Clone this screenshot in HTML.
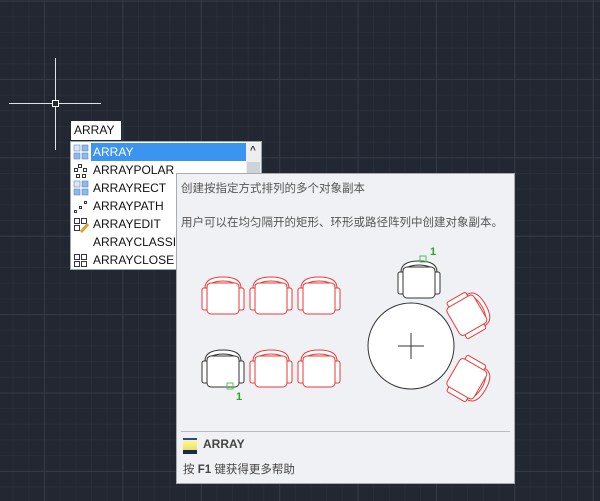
<!DOCTYPE html>
<html><head><meta charset="utf-8"><style>
body{margin:0;width:600px;height:501px;overflow:hidden;background:#222732;font-family:"Liberation Sans","Noto Sans CJK SC",sans-serif;position:relative}
.grid{position:absolute;inset:0;background-image:
linear-gradient(to right,#343a46 1px,transparent 1px),linear-gradient(to bottom,#343a46 1px,transparent 1px),
linear-gradient(to right,#292e39 1px,transparent 1px),linear-gradient(to bottom,#292e39 1px,transparent 1px);
background-size:78.4px 78.4px,78.4px 78.4px,15.68px 15.68px,15.68px 15.68px;
background-position:44px 0,0 0.6px,44px 0,0 0.6px}
.a{position:absolute}
.inp{left:71px;top:121px;width:50px;height:19px;background:#fff;font-size:12px;line-height:19px;padding-left:3px;box-sizing:border-box;color:#111}
.list{left:70px;top:141px;width:192px;height:129px;background:#fff;border:1px solid #9aa;box-sizing:border-box}
.row{position:absolute;left:22px;font-size:12px;color:#111;height:18px;line-height:18px}
.tip{left:176px;top:173px;width:339px;height:311px;background:#f0f1f5;border:1px solid #a8abb2;box-sizing:border-box}
.t{position:absolute;font-size:11.5px;color:#555;white-space:nowrap}
</style></head><body>
<div class="grid"></div>
<svg class="a" style="left:0;top:0" width="600" height="501">
<line x1="9" y1="103.5" x2="101" y2="103.5" stroke="#dfe2e6"/>
<line x1="55.5" y1="58" x2="55.5" y2="150" stroke="#dfe2e6"/>
<rect x="52.5" y="100.5" width="6" height="6" fill="#222732" stroke="#fff"/>
</svg>
<div class="a inp">ARRAY</div>
<div class="a list">
<div class="a" style="left:20px;top:1px;width:155px;height:18px;background:#3b94f0"></div>
<div class="a" style="left:175px;top:1px;width:15px;height:125px;background:#eceef0"></div>
<div class="a" style="left:176px;top:20px;width:13px;height:22px;background:#cfd2d6"></div>
<div class="a" style="left:179px;top:3px;font-size:10px;color:#333;font-weight:bold">^</div>
<div class="row" style="top:1px;color:#fff">ARRAY</div>
<div class="row" style="top:19px">ARRAYPOLAR</div>
<div class="row" style="top:37px">ARRAYRECT</div>
<div class="row" style="top:55px">ARRAYPATH</div>
<div class="row" style="top:73px">ARRAYEDIT</div>
<div class="row" style="top:91px">ARRAYCLASSIC</div>
<div class="row" style="top:109px">ARRAYCLOSE</div>
<svg class="a" style="left:2px;top:2px" width="17" height="125">
<g fill="#8fb8e8" stroke="#5a88c0" stroke-width=".6"><rect x="1" y="1" width="6" height="6" fill="#dde6f0"/><rect x="9" y="1" width="6" height="6"/><rect x="1" y="9" width="6" height="6"/><rect x="9" y="9" width="6" height="6"/></g>
<g fill="none" stroke="#333"><rect x="5.5" y="20.5" width="3" height="3"/><rect x="1.5" y="24.5" width="3" height="3"/><rect x="10.5" y="24.5" width="3" height="3"/><rect x="3.5" y="30.5" width="3" height="3"/><rect x="9.5" y="30.5" width="3" height="3"/></g>
<g fill="#8fb8e8" stroke="#5a88c0" stroke-width=".6"><rect x="1" y="37" width="6" height="6" fill="#dde6f0"/><rect x="9" y="37" width="6" height="6"/><rect x="1" y="45" width="6" height="6"/><rect x="9" y="45" width="6" height="6"/></g>
<g fill="none" stroke="#336"><rect x="1.5" y="66.5" width="2" height="2"/><rect x="6.5" y="62.5" width="2" height="2"/><rect x="11.5" y="57.5" width="2" height="2"/></g>
<g fill="none" stroke="#335"><rect x="1.5" y="74.5" width="5" height="5"/><rect x="8.5" y="74.5" width="5" height="5"/><rect x="1.5" y="81.5" width="5" height="5"/></g><path d="M8 88 L15 80" stroke="#e0a020" stroke-width="3"/>
<g fill="none" stroke="#335"><rect x="1.5" y="110.5" width="5" height="5"/><rect x="8.5" y="110.5" width="5" height="5"/><rect x="1.5" y="117.5" width="5" height="5"/><rect x="8.5" y="117.5" width="5" height="5"/></g>
</svg>
</div>
<div class="a tip">
<div class="t" style="left:4px;top:6px">创建按指定方式排列的多个对象副本</div>
<div class="t" style="left:4px;top:40px">用户可以在均匀隔开的矩形、环形或路径阵列中创建对象副本。</div>
<div class="a" style="left:4px;top:257px;width:329px;height:1px;background:#b8bbc0"></div>
<div class="a" style="left:6px;top:264px;width:14px;height:13px;background:linear-gradient(#fff8a0,#e8d850);border-top:2px solid #2a4a90"></div>
<div class="a" style="left:6px;top:276px;width:14px;height:4px;background:#1a2a50"></div>
<div class="t" style="left:26px;top:263px;font-weight:bold;font-size:12px;color:#444">ARRAY</div>
<div class="t" style="left:6px;top:287px;color:#444;font-size:11.5px">按 <b>F1</b> 键获得更多帮助</div>
</div>
<svg class="a" style="left:0;top:0" width="600" height="501">
<defs>
<g id="ch" fill="#fff" stroke-width="1">
<rect x="-21" y="-8" width="6" height="22" rx="2"/>
<rect x="15" y="-8" width="6" height="22" rx="2"/>
<path d="M-18 -8 Q-18 -19 0 -19 Q18 -19 18 -8 Z"/>
<path d="M-16 -11 Q0 -19 16 -11" fill="none"/>
<rect x="-16" y="-13" width="32" height="31" rx="4"/>
</g>
</defs>
<g stroke="#e83a3a"><use href="#ch" x="223" y="296"/><use href="#ch" x="271" y="296"/><use href="#ch" x="319" y="296"/>
<use href="#ch" x="271" y="369"/><use href="#ch" x="319" y="369"/>
<use href="#ch" transform="translate(469,314) rotate(60)"/><use href="#ch" transform="translate(469,380) rotate(120)"/></g>
<g stroke="#333"><use href="#ch" x="223" y="369"/><use href="#ch" x="419" y="280"/></g>
<circle cx="411" cy="346" r="43" fill="#fff" stroke="#333"/>
<line x1="398" y1="346" x2="424" y2="346" stroke="#333"/><line x1="411" y1="333" x2="411" y2="359" stroke="#333"/>
<rect x="227" y="383" width="6" height="6" fill="none" stroke="#55c055"/>
<rect x="420" y="256" width="6" height="6" fill="none" stroke="#55c055"/>
<text x="236" y="400" font-size="11" font-weight="bold" fill="#2a2" font-family="Liberation Sans">1</text>
<text x="430" y="255" font-size="11" font-weight="bold" fill="#2a2" font-family="Liberation Sans">1</text>
</svg>
</body></html>
